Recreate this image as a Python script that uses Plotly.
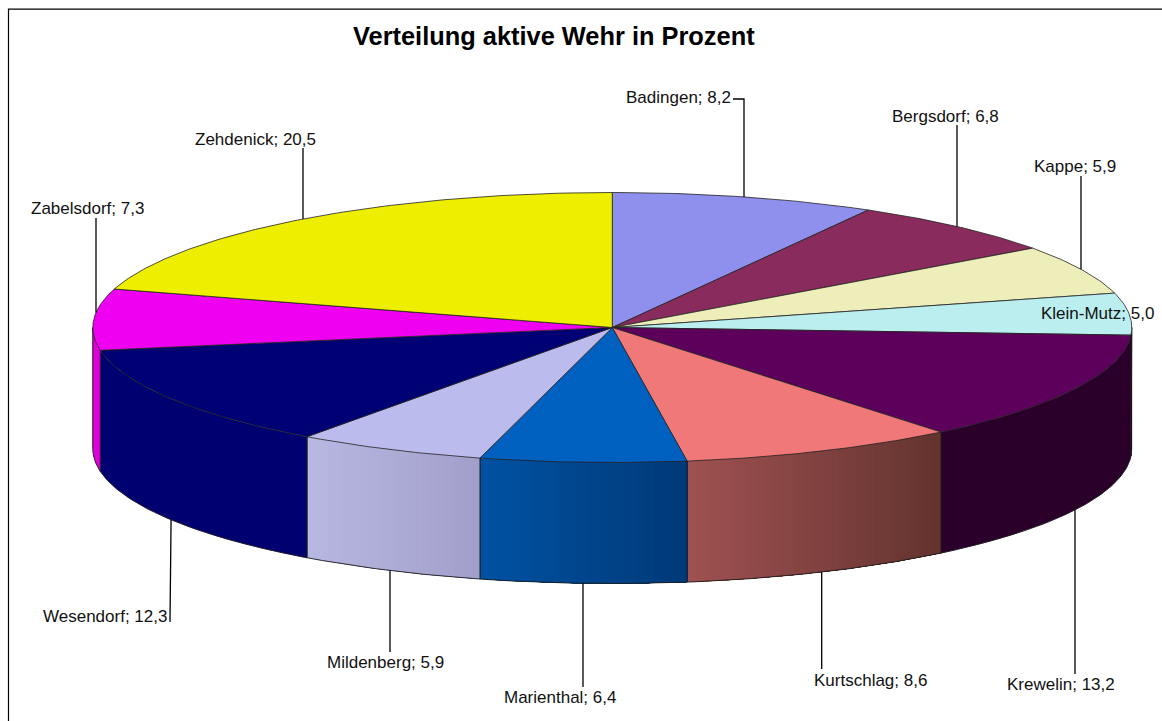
import numpy as np
import plotly.graph_objects as go

# ---- data ----
categories = ["Badingen", "Bergsdorf", "Kappe", "Klein-Mutz", "Krewelin", "Kurtschlag",
              "Marienthal", "Mildenberg", "Wesendorf", "Zabelsdorf", "Zehdenick"]
values = [8.2, 6.8, 5.9, 5.0, 13.2, 8.6, 6.4, 5.9, 12.3, 7.3, 20.5]
value_labels = ["8,2", "6,8", "5,9", "5,0", "13,2", "8,6", "6,4", "5,9", "12,3", "7,3", "20,5"]
title_text = "Verteilung aktive Wehr in Prozent"

# ---- styles ----
top_colors = ["#8f8fee", "#8a2b5e", "#eeeebb", "#bbeeee", "#5c005c", "#f07878",
              "#0060c0", "#bbbbee", "#000075", "#f000f0", "#eeee00"]
wall_left = ["#8080d0", "#702050", "#c8c8a0", "#2a002a", "#2a002a", "#a05252",
             "#0052a4", "#b8b8e2", "#000070", "#e000d8", "#d0d000"]
wall_right = ["#8080d0", "#702050", "#c8c8a0", "#2a002a", "#2a002a", "#64342f",
              "#003a78", "#a2a0ca", "#000070", "#e000d8", "#d0d000"]

# ---- geometry (px-like axis units) ----
W, H = 1162, 721
CX, CY, RX, RY, DEPTH = 612.3, 327.5, 519.5, 135.0, 121.0
EDGE = "#1c1c1c"
FONT = "Liberation Sans, Arial, sans-serif"

# label centre (x, y) and leader elbow points per category (None = no leader)
label_xy = [(678, 97), (945.5, 116), (1075, 166), (1097, 313), (1061, 684), (870.5, 680),
            (559.5, 697), (385, 662), (104.5, 616), (87, 208), (255, 139)]
leader_via = [[(744, 99), (733, 99)], [(957, 125)], [(1081, 176)], None, [(1075, 674)],
              [(821.7, 669)], [(583, 687)], [(390, 652)], [(170, 622)], [(96, 218)], [(303, 148)]]
slanted = ["Wesendorf"]


def hexrgb(c):
    return np.array([int(c[i:i + 2], 16) for i in (1, 3, 5)], float)


def pt(a, dz=0.0):
    """Project angle (deg clockwise from top) on the pie ellipse."""
    r = np.radians(a)
    return CX + RX * np.sin(r), CY - RY * np.cos(r) + dz


# values are percentages; rounded labels add up to 100.1, so cap at the full circle
cum = np.minimum(np.concatenate([[0], np.cumsum(values)]) * 3.6, 360.0)
fig = go.Figure()


def poly(xs, ys, fill=None, line=EDGE, width=0.8):
    fig.add_trace(go.Scatter(
        x=list(xs), y=list(ys), mode="lines", hoverinfo="skip", showlegend=False,
        fill="toself" if fill else "none", fillcolor=fill,
        line=dict(color=line, width=width)))


def x_to_front_angle(x):
    return 180.0 - np.degrees(np.arcsin(np.clip((x - CX) / RX, -1, 1)))


# side wall: only the front half of the disc
for i in range(len(values)):
    a0, a1 = max(cum[i], 90.0), min(cum[i + 1], 270.0)
    if a1 <= a0:
        continue
    x0, x1 = pt(a0)[0], pt(a1)[0]
    lo, hi = min(x0, x1), max(x0, x1)
    aa_all = np.linspace(a0, a1, 121)
    if wall_left[i] == wall_right[i]:
        xt, yt = pt(aa_all)
        xb, yb = pt(aa_all[::-1], DEPTH)
        poly(np.r_[xt, xb, xt[0]], np.r_[yt, yb, yt[0]], wall_left[i], wall_left[i], 0.5)
    else:
        # painter's gradient: each band reaches to the right end of the wall, so no seams
        n = max(2, int((hi - lo) / 3))
        cl, cr = hexrgb(wall_left[i]), hexrgb(wall_right[i])
        edges = np.linspace(lo, hi, n + 1)
        for k in range(n):
            sx = np.linspace(edges[k], hi, 30)
            ang = x_to_front_angle(sx)
            xt, yt = pt(ang)
            xb, yb = pt(ang[::-1], DEPTH)
            c = cl + (cr - cl) * (k + 0.5) / n
            col = "rgb(%d,%d,%d)" % tuple(c)
            poly(np.r_[xt, xb, xt[0]], np.r_[yt, yb, yt[0]], col, col, 0)
    # wall outline
    xt0, yt0 = pt(a0)
    xb, yb = pt(aa_all, DEPTH)
    xt1, yt1 = pt(a1)
    poly(np.r_[xt0, xb, xt1], np.r_[yt0, yb, yt1], None, EDGE, 0.9)

# top face
for i in range(len(values)):
    aa = np.linspace(cum[i], cum[i + 1], max(8, int(values[i] * 6)))
    xs, ys = pt(aa)
    poly(np.r_[CX, xs, CX], np.r_[CY, ys, CY], top_colors[i], "#222222", 0.8)

# leader lines and labels
for i, name in enumerate(categories):
    if leader_via[i]:
        mid = (cum[i] + cum[i + 1]) / 2
        front = 90 < mid < 270
        sx, sy = pt(mid, DEPTH if front else 0.0)
        if name not in slanted:
            # vertical leader: start where its x meets the rim
            sx = leader_via[i][0][0]
            h = RY * np.sqrt(1 - ((sx - CX) / RX) ** 2)
            sy = CY + h + DEPTH if front else CY - h
        poly([sx] + [p[0] for p in leader_via[i]], [sy] + [p[1] for p in leader_via[i]],
             None, "#000000", 1.3)
    fig.add_annotation(x=label_xy[i][0], y=label_xy[i][1], text=f"{name}; {value_labels[i]}",
                       showarrow=False, xanchor="center", yanchor="middle",
                       font=dict(family=FONT, size=17, color="#111111"))

fig.add_annotation(x=553.5, y=36, text=f"<b>{title_text}</b>", showarrow=False,
                   xanchor="center", yanchor="middle",
                   font=dict(family=FONT, size=25.4, color="#000000"))

fig.add_shape(type="rect", x0=8.5, y0=9.2, x1=W + 5, y1=H + 5,
              line=dict(color="#000000", width=1.2), layer="above")

fig.update_layout(
    width=W, height=H, margin=dict(l=0, r=0, t=0, b=0), showlegend=False,
    paper_bgcolor="white", plot_bgcolor="white",
    xaxis=dict(range=[0, W], visible=False, fixedrange=True),
    yaxis=dict(range=[H, 0], visible=False, fixedrange=True),
)
fig.write_html("out.html", config={"displayModeBar": False},
               post_script="document.body.style.margin='0';document.body.style.overflow='hidden';")
